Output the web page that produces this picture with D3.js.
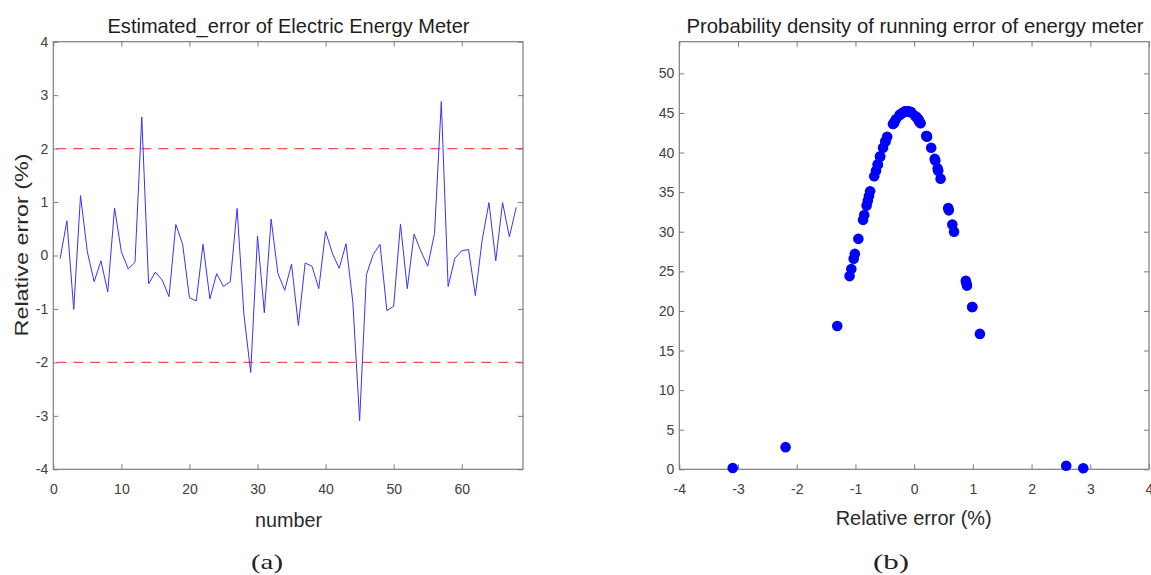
<!DOCTYPE html>
<html>
<head>
<meta charset="utf-8">
<script src="https://cdn.jsdelivr.net/npm/d3@7"></script>
<style>
  html, body { margin: 0; padding: 0; background: #fff; }
  svg { display: block; }
</style>
</head>
<body>
<div id="chart"></div>
<script>
// sample number (x of panel a)
var sampleNo = [1, 2, 3, 4, 5, 6, 7, 8, 9, 10,
  11, 12, 13, 14, 15, 16, 17, 18, 19, 20,
  21, 22, 23, 24, 25, 26, 27, 28, 29, 30,
  31, 32, 33, 34, 35, 36, 37, 38, 39, 40,
  41, 42, 43, 44, 45, 46, 47, 48, 49, 50,
  51, 52, 53, 54, 55, 56, 57, 58, 59, 60,
  61, 62, 63, 64, 65, 66, 67, 68];

// estimated relative error (%)
var relError = [-0.06, 0.65, -1.01, 1.12, 0.07, -0.49, -0.10, -0.68, 0.89, 0.07,
  -0.25, -0.13, 2.59, -0.53, -0.31, -0.46, -0.77, 0.58, 0.21, -0.79,
  -0.85, 0.21, -0.81, -0.34, -0.58, -0.49, 0.88, -1.10, -2.19, 0.36,
  -1.07, 0.68, -0.34, -0.65, -0.16, -1.31, -0.14, -0.20, -0.62, 0.45,
  0.04, -0.24, 0.22, -0.87, -3.09, -0.36, 0.02, 0.21, -1.03, -0.95,
  0.59, -0.62, 0.40, 0.08, -0.20, 0.41, 2.88, -0.58, -0.05, 0.09,
  0.11, -0.75, 0.29, 0.99, -0.10, 0.99, 0.35, 0.90];

// probability density for each error value
var density = [45.1, 30.9, 27.2, 17.1, 44.2, 41.4, 45.2, 37.0, 23.5, 44.2,
  44.7, 45.2, 0.45, 40.6, 44.2, 42.0, 34.5, 33.0, 42.1, 33.9,
  32.1, 42.1, 33.3, 43.8, 39.5, 41.4, 23.8, 24.4, 2.8, 39.0,
  25.3, 30.0, 43.8, 37.7, 45.2, 18.1, 45.2, 45.0, 38.5, 36.7,
  44.5, 44.8, 42.0, 31.5, 0.16, 43.6, 44.6, 42.1, 26.6, 29.1,
  32.7, 38.5, 38.0, 44.0, 45.0, 37.7, 0.14, 39.5, 45.1, 43.9,
  43.7, 35.1, 40.6, 20.5, 45.2, 20.5, 39.2, 23.2];

// limits of the allowed error band
var limitLines = [2, -2];

// tick values
var leftXTicks = [0, 10, 20, 30, 40, 50, 60];
var leftYTicks = [-4, -3, -2, -1, 0, 1, 2, 3, 4];
var rightXTicks = [-4, -3, -2, -1, 0, 1, 2, 3, 4];
var rightYTicks = [0, 5, 10, 15, 20, 25, 30, 35, 40, 45, 50];

var width = 1151, height = 575;
var sans = "'Liberation Sans', Arial, Helvetica, sans-serif";
var serif = "'Liberation Serif', 'DejaVu Serif', serif";
var axisColor = "#7d7d7d";
var tickTextColor = "#404040";

var svg = d3.select("#chart")
  .append("svg")
  .attr("width", width)
  .attr("height", height);

// plain hyphen for negatives, like the original
var plain = function (d) { return String(d); };
var blank = function () { return ""; };

// draws box, inward ticks on all four sides and tick labels
function drawFrame(g, x, y, xTicks, yTicks) {
  var xr = x.range(), yr = y.range();

  g.append("g")
    .attr("transform", "translate(0," + yr[0] + ")")
    .call(d3.axisBottom(x).tickValues(xTicks).tickSizeInner(-5).tickSizeOuter(0).tickPadding(15).tickFormat(plain));
  g.append("g")
    .attr("transform", "translate(0," + yr[1] + ")")
    .call(d3.axisTop(x).tickValues(xTicks).tickSizeInner(-5).tickSizeOuter(0).tickFormat(blank));
  g.append("g")
    .attr("transform", "translate(" + xr[0] + ",0)")
    .call(d3.axisLeft(y).tickValues(yTicks).tickSizeInner(-5).tickSizeOuter(0).tickPadding(5).tickFormat(plain));
  g.append("g")
    .attr("transform", "translate(" + xr[1] + ",0)")
    .call(d3.axisRight(y).tickValues(yTicks).tickSizeInner(-5).tickSizeOuter(0).tickFormat(blank));

  g.selectAll(".domain").remove();
  g.selectAll(".tick line").attr("stroke", axisColor).attr("stroke-width", 1);
  g.selectAll(".tick text")
    .attr("fill", tickTextColor)
    .style("font-family", sans)
    .style("font-size", "14px");

  g.append("rect")
    .attr("x", xr[0])
    .attr("y", yr[1])
    .attr("width", xr[1] - xr[0])
    .attr("height", yr[0] - yr[1])
    .attr("fill", "none")
    .attr("stroke", axisColor)
    .attr("stroke-width", 1.2);
}

function addText(str, x, y, size, len, opts) {
  opts = opts || {};
  var t = svg.append("text")
    .attr("transform", "translate(" + x + "," + y + ")" + (opts.rotate ? " rotate(" + opts.rotate + ")" : ""))
    .attr("text-anchor", "middle")
    .attr("fill", opts.color || "#1e1e1e")
    .style("font-family", opts.family || sans)
    .style("font-size", size + "px")
    .text(str);
  if (len) t.attr("textLength", len).attr("lengthAdjust", "spacingAndGlyphs");
  return t;
}

// ---------- panel (a): estimated error ----------
var xLeft = d3.scaleLinear().domain([0, 69]).range([53.3, 523]);
var yLeft = d3.scaleLinear().domain([-4, 4]).range([469.3, 41.7]);

var gLeft = svg.append("g");

// red dashed limits
gLeft.selectAll(".limit")
  .data(limitLines)
  .enter()
  .append("line")
  .attr("class", "limit")
  .attr("x1", xLeft(0))
  .attr("x2", xLeft(69))
  .attr("y1", function (d) { return yLeft(d); })
  .attr("y2", function (d) { return yLeft(d); })
  .attr("stroke", "#ff4a4a")
  .attr("stroke-width", 1.3)
  .attr("stroke-dasharray", "10,7")
  .attr("stroke-dashoffset", -3);

var errLine = d3.line()
  .x(function (d, i) { return xLeft(sampleNo[i]); })
  .y(function (d) { return yLeft(d); });

gLeft.append("path")
  .datum(relError)
  .attr("d", errLine)
  .attr("fill", "none")
  .attr("stroke", "#3434ff")
  .attr("stroke-width", 1);

drawFrame(gLeft, xLeft, yLeft, leftXTicks, leftYTicks);

addText("Estimated_error of Electric Energy Meter", 288.5, 33, 21, 362);
addText("number", 288.5, 527, 21, 67, { color: "#2a2a2a" });
addText("Relative error (%)", 28, 245, 18.5, 183, { rotate: -90, color: "#2a2a2a" });
addText("(a)", 267, 569, 22, 32, { family: serif, color: "#222" });

// ---------- panel (b): probability density ----------
var xRight = d3.scaleLinear().domain([-4, 4]).range([679.3, 1149]);
var yRight = d3.scaleLinear().domain([0, 54]).range([469.3, 41.7]);

var gRight = svg.append("g");
drawFrame(gRight, xRight, yRight, rightXTicks, rightYTicks);

gRight.selectAll(".dot")
  .data(relError)
  .enter()
  .append("circle")
  .attr("class", "dot")
  .attr("cx", function (d) { return xRight(d); })
  .attr("cy", function (d, i) { return yRight(density[i]); })
  .attr("r", 5.3)
  .attr("fill", "#0000ff");

addText("Probability density of running error of energy meter", 915, 33, 21, 457);
addText("Relative error (%)", 913.7, 525, 21, 156, { color: "#2a2a2a" });
addText("(b)", 891, 569, 22, 36, { family: serif, color: "#222" });
</script>
</body>
</html>
